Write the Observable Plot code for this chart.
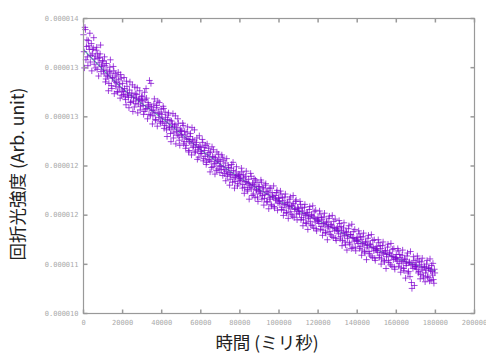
<!DOCTYPE html>
<html>
<head>
<meta charset="utf-8">
<script src="https://cdn.jsdelivr.net/npm/d3@7"></script>
<script src="https://cdn.jsdelivr.net/npm/@observablehq/plot@0.6"></script>
<style>
  html, body { margin: 0; padding: 0; background: #fff; }
  #chart { position: relative; width: 486px; height: 354px; }
</style>
</head>
<body>
<div id="chart"></div>
<script>
// ---- data (intensity in units of 1e-6, time in ms) ----
const timeStep = 500;     // ms between samples
const timeOffsetB = 250;  // second interleaved sample set
const intensityA = [
  13.78, 13.33, 13.85, 13.62, 13.48, 13.70, 13.58, 13.41, 13.66, 13.52, 13.60, 13.38, 13.49, 13.57, 13.31, 13.46, 13.40, 13.52, 13.28, 13.37,
  13.42, 13.25, 13.36, 13.18, 13.30, 13.21, 13.12, 13.34, 13.26, 13.05, 13.20, 13.29, 13.15, 13.08, 13.22, 13.00, 13.17, 13.11, 13.24, 12.96,
  13.12, 12.97, 13.05, 12.90, 13.15, 12.99, 12.93, 13.03, 12.86, 12.95, 13.10, 12.88, 12.80, 12.98, 12.92, 13.06, 12.84, 12.91, 12.76, 12.89,
  12.95, 12.82, 12.74, 12.90, 13.05, 12.78, 12.86, 12.70, 12.81, 13.12, 12.75, 12.68, 12.84, 12.72, 12.62, 12.79, 12.88, 12.66, 12.71, 12.58,
  12.70, 12.60, 12.78, 12.55, 12.66, 12.49, 12.63, 12.72, 12.52, 12.44, 12.61, 12.57, 12.38, 12.54, 12.68, 12.47, 12.42, 12.58, 12.35, 12.50,
  12.48, 12.39, 12.55, 12.33, 12.42, 12.28, 12.46, 12.36, 12.21, 12.40, 12.31, 12.52, 12.25, 12.34, 12.18, 12.29, 12.38, 12.22, 12.12, 12.27,
  12.26, 12.17, 12.32, 12.10, 12.21, 12.28, 12.05, 12.15, 12.24, 12.08, 12.19, 11.98, 12.13, 12.22, 12.03, 12.11, 11.94, 12.07, 12.16, 12.00,
  12.06, 11.95, 12.12, 11.99, 11.90, 12.04, 11.93, 11.86, 12.01, 11.91, 11.82, 11.97, 11.88, 12.05, 11.84, 11.79, 11.92, 11.87, 11.76, 11.89,
  11.88, 11.80, 11.92, 11.75, 11.84, 11.71, 11.86, 11.78, 11.66, 11.82, 11.74, 11.90, 11.69, 11.77, 11.62, 11.73, 11.81, 11.67, 11.58, 11.72,
  11.72, 11.63, 11.78, 11.60, 11.69, 11.56, 11.74, 11.65, 11.51, 11.62, 11.70, 11.55, 11.48, 11.64, 11.58, 11.45, 11.60, 11.53, 11.67, 11.50,
  11.57, 11.49, 11.62, 11.44, 11.53, 11.40, 11.58, 11.47, 11.36, 11.51, 11.43, 11.55, 11.38, 11.46, 11.32, 11.49, 11.41, 11.52, 11.35, 11.44,
  11.42, 11.35, 11.48, 11.30, 11.39, 11.27, 11.44, 11.33, 11.22, 11.37, 11.29, 11.41, 11.25, 11.34, 11.19, 11.31, 11.38, 11.24, 11.15, 11.28,
  11.30, 11.22, 11.35, 11.18, 11.27, 11.13, 11.31, 11.20, 11.09, 11.24, 11.16, 11.29, 11.11, 11.21, 11.05, 11.17, 11.25, 11.12, 11.02, 11.15,
  11.17, 11.08, 11.22, 11.04, 11.13, 10.99, 11.16, 11.06, 10.93, 11.10, 11.02, 11.15, 10.96, 11.07, 10.88, 11.03, 11.11, 10.98, 10.90, 11.01,
  11.03, 10.95, 11.08, 10.91, 11.00, 10.86, 11.04, 10.93, 10.82, 10.97, 10.89, 11.02, 10.84, 10.94, 10.78, 10.90, 10.99, 10.85, 10.75, 10.88,
  10.91, 10.83, 10.96, 10.79, 10.88, 10.74, 10.92, 10.81, 10.70, 10.85, 10.77, 10.90, 10.72, 10.82, 10.66, 10.78, 10.87, 10.73, 10.63, 10.76,
  10.80, 10.71, 10.85, 10.68, 10.76, 10.62, 10.79, 10.70, 10.58, 10.73, 10.65, 10.78, 10.55, 10.69, 10.50, 10.66, 10.34, 10.61, 10.72, 10.64,
  10.69, 10.60, 10.74, 10.57, 10.66, 10.53, 10.70, 10.59, 10.48, 10.63, 10.55, 10.67, 10.50, 10.61, 10.44, 10.58, 10.65, 10.52, 10.46, 10.60
];
const intensityB = [
  13.55, 13.88, 13.44, 13.71, 13.36, 13.63, 13.80, 13.50, 13.29, 13.58, 13.74, 13.45, 13.33, 13.61, 13.52, 13.22, 13.47, 13.64, 13.35, 13.43,
  13.30, 13.48, 13.14, 13.39, 13.23, 13.02, 13.28, 13.44, 13.09, 13.19, 13.35, 12.98, 13.25, 13.13, 13.01, 13.27, 13.06, 12.92, 13.19, 13.03,
  13.01, 13.20, 12.94, 12.83, 13.08, 12.96, 12.79, 13.14, 12.87, 12.99, 12.74, 12.93, 13.07, 12.85, 12.97, 12.72, 12.90, 13.02, 12.81, 12.94,
  12.88, 12.70, 13.00, 12.77, 12.92, 12.64, 12.83, 13.16, 12.69, 12.80, 12.57, 12.76, 12.91, 12.63, 12.82, 12.54, 12.73, 12.86, 12.60, 12.77,
  12.64, 12.81, 12.51, 12.73, 12.58, 12.40, 12.69, 12.53, 12.62, 12.33, 12.50, 12.71, 12.45, 12.56, 12.30, 12.52, 12.64, 12.41, 12.28, 12.47,
  12.43, 12.58, 12.30, 12.47, 12.24, 12.37, 12.53, 12.19, 12.33, 12.44, 12.15, 12.36, 12.27, 12.49, 12.20, 12.32, 12.09, 12.25, 12.41, 12.17,
  12.20, 12.36, 12.07, 12.25, 12.13, 12.02, 12.30, 12.09, 12.18, 11.92, 12.06, 12.26, 11.99, 12.12, 11.89, 12.04, 12.19, 11.96, 12.09, 11.91,
  12.00, 12.15, 11.87, 12.08, 11.95, 11.80, 12.10, 11.89, 11.98, 11.74, 11.88, 12.02, 11.78, 11.94, 11.70, 11.85, 11.99, 11.73, 11.86, 11.81,
  11.83, 11.97, 11.70, 11.88, 11.63, 11.79, 11.93, 11.68, 11.76, 11.55, 11.71, 11.86, 11.60, 11.75, 11.83, 11.57, 11.68, 11.78, 11.52, 11.65,
  11.66, 11.81, 11.55, 11.71, 11.47, 11.61, 11.76, 11.52, 11.66, 11.42, 11.57, 11.70, 11.46, 11.59, 11.73, 11.43, 11.55, 11.64, 11.40, 11.56,
  11.52, 11.66, 11.41, 11.57, 11.33, 11.48, 11.62, 11.37, 11.50, 11.29, 11.45, 11.58, 11.34, 11.47, 11.60, 11.30, 11.42, 11.54, 11.27, 11.39,
  11.38, 11.52, 11.27, 11.43, 11.19, 11.35, 11.48, 11.23, 11.36, 11.14, 11.31, 11.45, 11.20, 11.33, 11.46, 11.16, 11.29, 11.40, 11.12, 11.26,
  11.25, 11.39, 11.14, 11.30, 11.06, 11.22, 11.36, 11.10, 11.24, 11.00, 11.18, 11.32, 11.07, 11.20, 11.33, 11.03, 11.16, 11.28, 10.99, 11.13,
  11.12, 11.26, 11.01, 11.18, 10.92, 11.09, 11.23, 10.97, 11.11, 10.86, 11.05, 11.19, 10.94, 11.07, 11.21, 10.89, 11.02, 11.14, 10.85, 10.99,
  10.98, 11.12, 10.88, 11.04, 10.79, 10.95, 11.09, 10.84, 10.97, 10.73, 10.92, 11.06, 10.81, 10.94, 11.07, 10.76, 10.89, 11.00, 10.72, 10.86,
  10.86, 11.00, 10.76, 10.92, 10.67, 10.83, 10.97, 10.72, 10.85, 10.61, 10.80, 10.94, 10.69, 10.82, 10.95, 10.64, 10.77, 10.88, 10.60, 10.74,
  10.74, 10.88, 10.64, 10.80, 10.56, 10.71, 10.86, 10.61, 10.74, 10.48, 10.68, 10.82, 10.57, 10.70, 10.84, 10.42, 10.66, 10.77, 10.38, 10.63,
  10.64, 10.78, 10.55, 10.71, 10.47, 10.62, 10.75, 10.51, 10.64, 10.43, 10.59, 10.72, 10.49, 10.62, 10.74, 10.45, 10.57, 10.68, 10.41, 10.55
];
const fitTime = [0, 20000, 40000, 60000, 80000, 100000, 120000, 140000, 160000, 180000];
const fitIntensity = [13.58, 13.05, 12.65, 12.22, 11.84, 11.53, 11.26, 10.99, 10.75, 10.58];

const xTicks = [0, 20000, 40000, 60000, 80000, 100000, 120000, 140000, 160000, 180000, 200000];
const yTickLabels = ["0.000010", "0.000011", "0.000012", "0.000012", "0.000013", "0.000013", "0.000014"];
const yMin = 10, yMax = 14;
const xLabel = "時間 (ミリ秒)";
const yLabel = "回折光強度 (Arb. unit)";

// ---- build ----
const points = intensityA.map((v, i) => ({t: i * timeStep, v}))
  .concat(intensityB.map((v, i) => ({t: timeOffsetB + i * timeStep, v})));
const fit = fitTime.map((t, i) => ({t, v: fitIntensity[i]}));
const yTicks = yTickLabels.map((_, i) => yMin + i * (yMax - yMin) / (yTickLabels.length - 1));

const plusSym = {draw(ctx, size) { const r = Math.sqrt(size / Math.PI); ctx.moveTo(-r, 0); ctx.lineTo(r, 0); ctx.moveTo(0, -r); ctx.lineTo(0, r); }};
const vTick = {draw(ctx, size) { const r = Math.sqrt(size / Math.PI); ctx.moveTo(0, -r); ctx.lineTo(0, r); }};
const hTick = {draw(ctx, size) { const r = Math.sqrt(size / Math.PI); ctx.moveTo(-r, 0); ctx.lineTo(r, 0); }};

const tickColor = "#999";
const labelFont = "'Noto Sans CJK JP', 'Noto Sans', sans-serif";
const chart = Plot.plot({
  width: 486,
  height: 354,
  marginLeft: 83,
  marginRight: 12,
  marginTop: 18,
  marginBottom: 41,
  style: {fontFamily: "'DejaVu Sans Mono', monospace", fontSize: "7px", background: "transparent"},
  x: {domain: [0, 200000]},
  y: {domain: [yMin, yMax]},
  marks: [
    Plot.line(fit, {x: "t", y: "v", stroke: "#5cc0a8", strokeWidth: 1.2, curve: "monotone-x"}),
    Plot.dot(points, {x: "t", y: "v", symbol: plusSym, r: 3.2, stroke: "#8000d0", strokeOpacity: 0.72, strokeWidth: 1, fill: "none"}),
    Plot.frame({stroke: tickColor, strokeWidth: 1.2}),
    Plot.dot(xTicks, {x: d => d, frameAnchor: "bottom", dy: -2, symbol: vTick, r: 2, stroke: tickColor}),
    Plot.dot(xTicks, {x: d => d, frameAnchor: "top", dy: 2, symbol: vTick, r: 2, stroke: tickColor}),
    Plot.dot(yTicks, {y: d => d, frameAnchor: "left", dx: 2, symbol: hTick, r: 2, stroke: tickColor}),
    Plot.dot(yTicks, {y: d => d, frameAnchor: "right", dx: -2, symbol: hTick, r: 2, stroke: tickColor}),
    Plot.axisX({ticks: xTicks, tickSize: 0, tickPadding: 7, tickFormat: d => String(d), fill: "#aaa", label: null}),
    Plot.axisY({ticks: yTicks, tickSize: 0, tickPadding: 5, tickFormat: (d) => yTickLabels[yTicks.indexOf(d)], fill: "#aaa", label: null}),
    Plot.text([xLabel], {frameAnchor: "bottom", dx: -12, dy: 30, fontFamily: labelFont, fontSize: 17.5, fill: "#222", lineAnchor: "middle", textAnchor: "middle"}),
    Plot.text([yLabel], {frameAnchor: "left", dx: -65, dy: 8, rotate: -90, fontFamily: labelFont, fontSize: 17.5, fill: "#222", lineAnchor: "middle", textAnchor: "middle"})
  ]
});
document.getElementById("chart").appendChild(chart);
</script>
</body>
</html>
